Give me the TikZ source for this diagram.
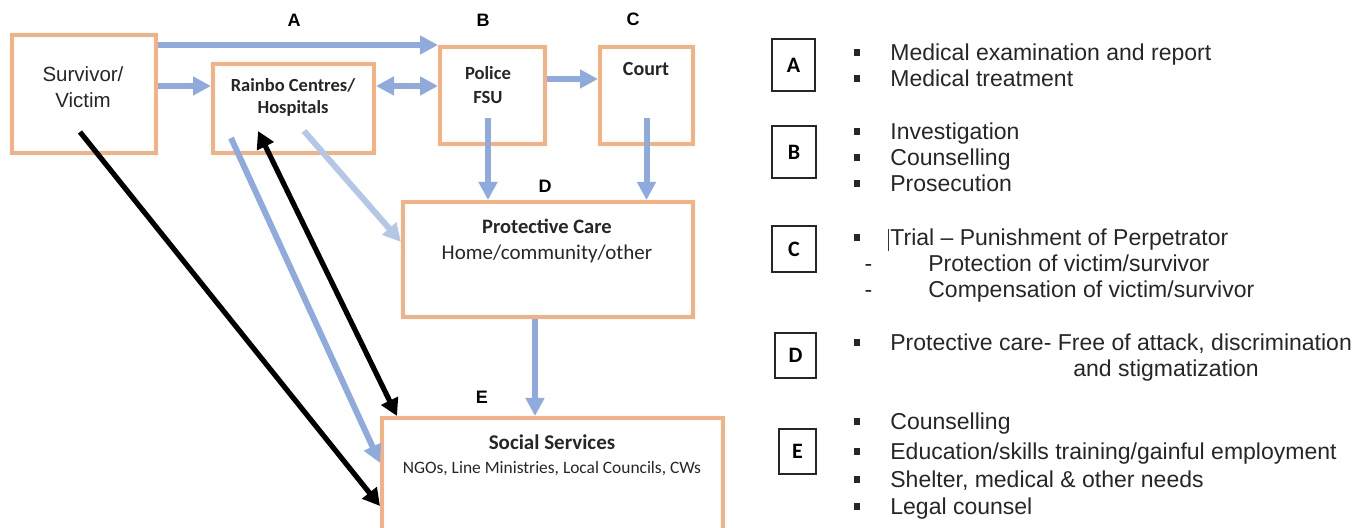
\documentclass[tikz,border=0pt]{standalone}
\usepackage{fontspec}
\setmainfont{Liberation Sans}
\newfontfamily\calibri{Carlito}
\usetikzlibrary{arrows.meta,fit}
\definecolor{boxorange}{HTML}{F4B183}
\definecolor{arrblue}{HTML}{8FAADC}
\definecolor{arrlight}{HTML}{B4C7E7}
\definecolor{txt}{HTML}{262626}
\newcommand\bul{\llap{\raisebox{2.6pt}{\rule{3.2pt}{3.2pt}}\hspace{15pt}}}
\newcommand\dsh{\llap{-\hspace{28pt}}}
\newcommand\fs[2]{\fontsize{#1}{#2}\selectfont}
\begin{document}
\begin{tikzpicture}[x=0.5pt,y=-0.5pt,
  obox/.style={draw=boxorange, line width=2pt, inner sep=0pt},
  lbox/.style={draw=black!85, line width=0.8pt, inner sep=0pt},
  bl/.style={draw=arrblue, line width=3pt, -{Triangle[length=9pt,width=9pt]}},
  bld/.style={draw=arrblue, line width=3pt, {Triangle[length=9pt,width=9pt]}-{Triangle[length=9pt,width=9pt]}},
  lbl/.style={draw=arrlight, line width=3pt, -{Triangle[length=9pt,width=9pt]}},
  blk/.style={draw=black, line width=2.6pt, -{Triangle[length=8.5pt,width=9pt]}},
  blkd/.style={draw=black, line width=2.6pt, {Triangle[length=8.5pt,width=9pt]}-{Triangle[length=8.5pt,width=9pt]}},
  intext/.style={text=txt, align=center, inner sep=0pt},
  cal/.style={intext, font=\calibri},
  head/.style={inner sep=0pt, font=\fs{9}{11}\bfseries},
  letter/.style={inner sep=0pt, font=\calibri\fs{11}{13}\bfseries},
  item/.style={anchor=base west, inner sep=0pt, text=txt, font=\fs{11.5}{14}}
]
\useasboundingbox (0,0) rectangle (1367,528);
\clip (0,0) rectangle (1367,528);

% boxes
\node[obox, fit={(12,35) (156,153)}] (sv) {};
\node[obox, fit={(213,64) (374,153)}] (rb) {};
\node[obox, fit={(440,47) (545,144)}] (pol) {};
\node[obox, fit={(600,47) (693,144)}] (crt) {};
\node[obox, fit={(403,202) (693,317)}] (pc) {};
\node[obox, fit={(382,418) (723,534)}] (ss) {};

% box texts
\node[intext, font=\fs{10.25}{13}] (svt) at (83,87) {Survivor/\\Victim};
\node[cal, font=\calibri\fs{9.25}{11}\bfseries] (rbt) at (293,97) {Rainbo Centres/\\Hospitals};
\node[cal, font=\calibri\fs{9.3}{12}\bfseries] (polt) at (488,85) {Police\\FSU};
\node[cal, font=\calibri\fs{10}{12}\bfseries] (crtt) at (646,69) {Court};
\node[cal, font=\calibri\fs{10.25}{13}] (pct) at (547,241) {{\bfseries Protective Care}\\{\fs{10.5}{13}Home/community/other}};
\node[cal, font=\calibri\fs{10.5}{12}] (sst) at (552,455) {{\bfseries Social Services}\\{\fs{8.7}{12}NGOs, Line Ministries, Local Councils, CWs}};

% stage labels
\node[head] (la) at (294,20) {A};
\node[head] (lb) at (483,20) {B};
\node[head] (lc) at (633,19) {C};
\node[head] (ld) at (545,186) {D};
\node[head] (le) at (482,397) {E};

% connectors
\draw[bl] (sv.east |- pol.north west) -- (pol.north west);
\draw[bl] (sv.east |- 0,86) -- (rb.west |- 0,86);
\draw[bld] (rb.east |- 0,86) -- (pol.west |- 0,86);
\draw[bl] (pol.east |- 0,79) -- (crt.west |- 0,79);
\draw[bl] (488,118) -- (488,0 |- pc.north);
\draw[bl] (crt.south |- 0,118) -- (crt.south |- pc.north);
\draw[bl] (535,0 |- pc.south) -- (535,0 |- ss.north);
\draw[lbl] (304,131) -- (pc.west |- 0,242);
\draw[bl] (231,138) -- (ss.west |- 0,463);
\draw[blkd] (258,131) -- (397,0 |- ss.north);
\draw[blk] (80,132) -- (ss.west |- 0,506);

% legend boxes
\node[lbox, fit={(772,39) (815,91)}] (ba) {};
\node[lbox, fit={(772,126) (816,178)}] (bb) {};
\node[lbox, fit={(772,226) (816,272)}] (bc) {};
\node[lbox, fit={(775,333) (816,378)}] (bd) {};
\node[lbox, fit={(779,429) (816,474)}] (be) {};
\node[letter] (lta) at (ba.center) {A};
\node[letter] (ltb) at (bb.center) {B};
\node[letter] (ltc) at (bc.center) {C};
\node[letter] (ltd) at (bd.center) {D};
\node[letter] (lte) at (be.center) {E};

% legend items
\node[item] (a1) at (890,61) {\bul Medical examination and report};
\node[item] (a2) at (890,87) {\bul Medical treatment};
\node[item] (b1) at (890,140) {\bul Investigation};
\node[item] (b2) at (890,166) {\bul Counselling};
\node[item] (b3) at (890,192) {\bul Prosecution};
\node[item] (c1) at (890,246) {\bul Trial -- Punishment of Perpetrator};
\draw[black!80, line width=0.5pt] (888,229) -- (888,251);
\node[item] (c2) at (928,272) {\dsh Protection of victim/survivor};
\node[item] (c3) at (928,298) {\dsh Compensation of victim/survivor};
\node[item] (d1) at (890,351) {\bul Protective care- Free of attack, discrimination};
\node[item] (d2) at (1073,377) {and stigmatization};
\node[item] (e1) at (890,430) {\bul Counselling};
\node[item] (e2) at (890,460) {\bul Education/skills training/gainful employment};
\node[item] (e3) at (890,488) {\bul Shelter, medical \& other needs};
\node[item] (e4) at (890,515) {\bul Legal counsel};
\end{tikzpicture}
\end{document}
